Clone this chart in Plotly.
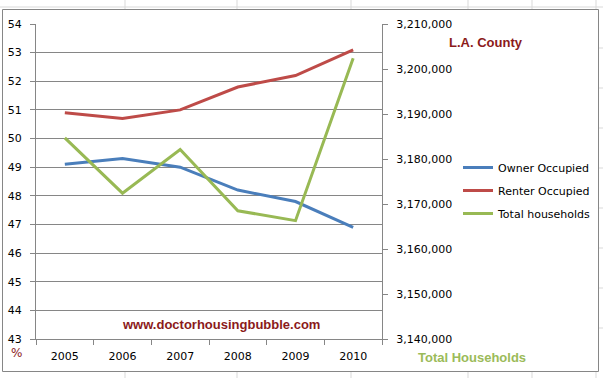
import plotly.graph_objects as go

years = ["2005", "2006", "2007", "2008", "2009", "2010"]
owner = [49.1, 49.3, 49.0, 48.2, 47.8, 46.9]
renter = [50.9, 50.7, 51.0, 51.8, 52.2, 53.1]
total_households = [3184700, 3172400, 3182100, 3168500, 3166300, 3202400]
left_ticks = list(range(43, 55))
right_ticks = list(range(3140000, 3210001, 10000))

W, H = 603, 378
L, R, T, B = 36, 382, 24, 339

def px(x):
    return (x - L) / (R - L)

def py(y):
    return (B - y) / (B - T)

fig = go.Figure()
fig.add_trace(go.Scatter(x=years, y=owner, name="Owner Occupied", mode="lines",
                         line=dict(color="#4A7EBB", width=3), legendgroup="a"))
fig.add_trace(go.Scatter(x=years, y=renter, name="Renter Occupied", mode="lines",
                         line=dict(color="#BE4B48", width=3), legendgroup="b"))
fig.add_trace(go.Scatter(x=years, y=total_households, name="Total households", mode="lines",
                         line=dict(color="#98B954", width=3), yaxis="y2", legendgroup="c"))

tickfont = dict(family="DejaVu Sans", size=11, color="black")
fig.update_layout(
    width=W, height=H,
    margin=dict(l=L, r=W - R, t=T, b=H - B, autoexpand=False),
    paper_bgcolor="white", plot_bgcolor="white",
    showlegend=True,
    legend=dict(x=px(458), y=py(153), xanchor="left", yanchor="top",
                font=dict(family="DejaVu Sans", size=11, color="black"),
                tracegroupgap=4, traceorder="grouped", bgcolor="rgba(0,0,0,0)",
                itemwidth=30),
    xaxis=dict(type="category", tickson="boundaries", ticks="outside", ticklen=5,
               tickcolor="#868686", showline=True, linecolor="#868686", showgrid=False,
               tickfont=tickfont, range=[-0.5, 5.5], automargin=False,
               ticklabelstandoff=7),
    yaxis=dict(range=[43, 54], tickvals=left_ticks, ticks="outside", ticklen=5,
               tickcolor="#868686", showline=True, linecolor="#868686",
               gridcolor="#868686", gridwidth=1, tickfont=tickfont, zeroline=False,
               ticklabelstandoff=6, automargin=False),
    yaxis2=dict(range=[3140000, 3210000], tickvals=right_ticks, tickformat=",",
                overlaying="y", side="right", ticks="outside", ticklen=5,
                tickcolor="#868686", showline=True, linecolor="#868686",
                showgrid=False, tickfont=tickfont, zeroline=False,
                ticklabelstandoff=6, automargin=False),
)

shapes = []
# spreadsheet cell lines behind the chart
for xv in [125, 237, 351, 468, 532, 596]:
    shapes.append(dict(type="line", xref="paper", yref="paper", x0=px(xv), x1=px(xv),
                       y0=py(0), y1=py(9), line=dict(color="#D9D9D9", width=1), layer="below"))
    shapes.append(dict(type="line", xref="paper", yref="paper", x0=px(xv), x1=px(xv),
                       y0=py(371), y1=py(378), line=dict(color="#D9D9D9", width=1), layer="below"))
shapes.append(dict(type="line", xref="paper", yref="paper", x0=px(0), x1=px(603),
                   y0=py(7), y1=py(7), line=dict(color="#D9D9D9", width=1), layer="below"))
for yv in [48, 88, 128, 168, 208, 248, 288, 328]:
    shapes.append(dict(type="line", xref="paper", yref="paper", x0=px(599), x1=px(603),
                       y0=py(yv), y1=py(yv), line=dict(color="#D9D9D9", width=1), layer="below"))
# chart border
shapes.append(dict(type="rect", xref="paper", yref="paper", x0=px(2.5), x1=px(598.5),
                   y0=py(371.5), y1=py(9.5), line=dict(color="#868686", width=1),
                   fillcolor="rgba(0,0,0,0)", layer="below"))
fig.update_layout(shapes=shapes)

ann_font_bold = dict(family="Liberation Sans", size=13, color="#8B1A1A")
common = dict(xref="paper", yref="paper", showarrow=False, xanchor="center", yanchor="middle")
fig.add_annotation(x=px(486), y=py(42), text="<b>L.A. County</b>", font=ann_font_bold, **common)
fig.add_annotation(x=px(221), y=py(324), text="<b>www.doctorhousingbubble.com</b>",
                   font=ann_font_bold, **common)
fig.add_annotation(x=px(16), y=py(353), text="%",
                   font=dict(family="DejaVu Sans", size=12, color="#8B1A1A"), **common)
fig.add_annotation(x=px(472), y=py(357), text="<b>Total Households</b>",
                   font=dict(family="Liberation Sans", size=13, color="#9BBB59"), **common)

fig.write_html("out.html", config={"displayModeBar": False},
               post_script="document.body.style.margin='0';document.body.style.overflow='hidden';")
